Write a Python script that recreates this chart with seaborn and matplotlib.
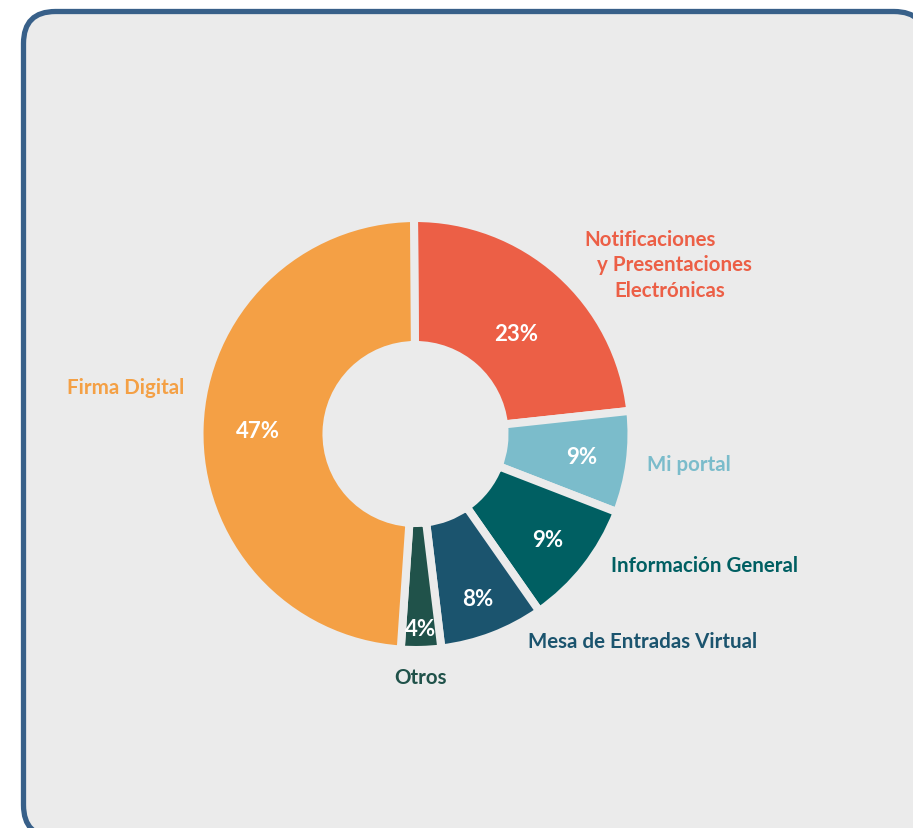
import matplotlib
matplotlib.use("Agg")
import matplotlib.pyplot as plt
import seaborn as sns
import numpy as np
from matplotlib.patches import FancyBboxPatch

# ---- data ----
categories = ["Notificaciones y Presentaciones Electrónicas", "Mi portal",
              "Información General", "Mesa de Entradas Virtual", "Otros", "Firma Digital"]
shares = [23.4, 7.6, 9.4, 7.8, 3.0, 48.8]          # slice sizes as drawn
pct_labels = ["23%", "9%", "9%", "8%", "4%", "47%"]  # printed labels
colors = ["#ec5f46", "#7bbccb", "#005f62", "#1b546e", "#20524a", "#f4a045"]

sns.set_theme(style="white")
plt.rcParams["font.family"] = ["Lato", "DejaVu Sans"]

W, H = 913, 829
fig = plt.figure(figsize=(W / 100, H / 100), dpi=100, facecolor="white")
ax = fig.add_axes([0, 0, 1, 1])

def Y(y):
    return H - y

BG = "#ebebeb"
box = FancyBboxPatch((23.5, Y(838)), 926 - 23.5, 838 - 12.5,
                     boxstyle="round,pad=0,rounding_size=32",
                     facecolor=BG, edgecolor="#386089", linewidth=3.8, zorder=0)
ax.add_patch(box)

cx, cy = 415.5, Y(435)
R = 216
wedges, _ = ax.pie(shares, colors=colors, startangle=90.4, counterclock=False,
                   radius=R, center=(cx, cy), frame=True,
                   wedgeprops=dict(width=127, edgecolor=BG, linewidth=5.8))
ax.set_xlim(0, W)
ax.set_ylim(0, H)
ax.set_axis_off()
ax.set_aspect("equal")

# percentage labels
pct_r = [0.66, 0.775, 0.78, 0.81, 0.895, 0.73]
pct_shift = [-3, 0, 0, 0, 0, 0]  # small angular offsets (deg)
for w, lab, rf, sh in zip(wedges, pct_labels, pct_r, pct_shift):
    ang = np.deg2rad((w.theta1 + w.theta2) / 2 + sh)
    ax.text(cx + rf * R * np.cos(ang), cy + rf * R * np.sin(ang) - 1, lab,
            color="white", fontsize=16, fontweight="bold", ha="center", va="center")

# category labels
lab_font = dict(fontsize=14.8, fontweight="bold", ha="left", va="center")
ax.text(584, Y(240), "Notificaciones", color=colors[0], **lab_font)
ax.text(597, Y(265), "y Presentaciones", color=colors[0], **lab_font)
ax.text(614, Y(291), "Electrónicas", color=colors[0], **lab_font)
ax.text(647, Y(465), categories[1], color=colors[1], **lab_font)
ax.text(611, Y(566), categories[2], color=colors[2], **lab_font)
ax.text(528, Y(642), categories[3], color=colors[3], **lab_font)
ax.text(394, Y(678), categories[4], color=colors[4], **lab_font)
ax.text(67, Y(388), categories[5], color=colors[5], **lab_font)

fig.savefig("out.png", dpi=100, facecolor="white")
